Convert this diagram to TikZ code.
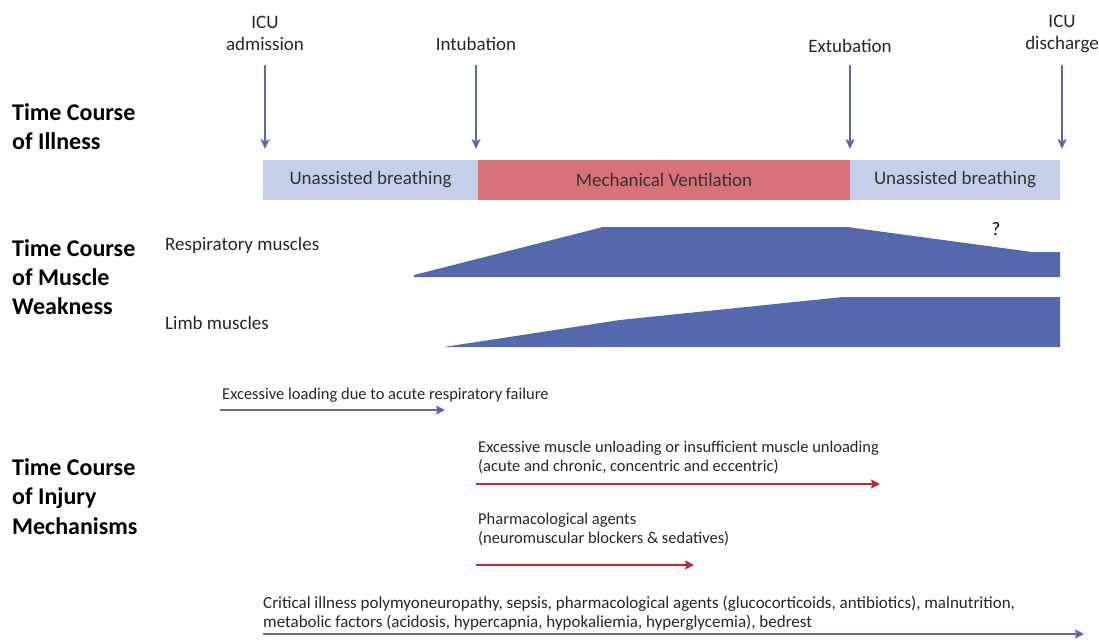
\documentclass[tikz,border=0pt]{standalone}
\usepackage{fontspec}
\setmainfont{Carlito}
\usetikzlibrary{arrows.meta}
\definecolor{lblue}{RGB}{197,207,234}
\definecolor{mred}{RGB}{216,114,122}
\definecolor{mblue}{RGB}{85,104,174}
\definecolor{ablue}{RGB}{88,108,170}
\definecolor{ared}{RGB}{196,40,45}
\tikzset{
  heading/.style={anchor=west,align=left,inner sep=0,font=\fontsize{24}{29.3}\selectfont\bfseries},
  toplabel/.style={align=center,inner sep=0,font=\fontsize{19}{22}\selectfont,text=black!85},
  bar/.style={inner sep=0,minimum height=40pt,font=\fontsize{19}{20}\selectfont,text=black!80},
  mlabel/.style={anchor=west,inner sep=0,font=\fontsize{19}{20}\selectfont,text=black!85},
  small/.style={anchor=west,align=left,inner sep=0,font=\fontsize{16.5}{19.5}\selectfont,text=black!85},
  downarrow/.style={draw=ablue,line width=1.8pt,-{Stealth[length=10pt,width=9pt,inset=2.5pt]}},
  mecharrow/.style={line width=2.6pt,-{Stealth[length=9pt,width=9pt,inset=1.5pt]}},
  muscle/.style={fill=mblue,draw=none}
}
\begin{document}
\begin{tikzpicture}[x=1pt,y=-1pt]
\useasboundingbox (0,0) rectangle (1099,642);
% headings
\node[heading] (h1) at (12,126.5) {Time Course\\of Illness};
\node[heading] (h2) at (12,277) {Time Course\\of Muscle\\Weakness};
\node[heading] (h3) at (12,496.5) {Time Course\\of Injury\\Mechanisms};
% top labels
\node[toplabel] (l1) at (265,33) {ICU\\admission};
\node[toplabel] (l2) at (476,44) {Intubation};
\node[toplabel] (l3) at (850,46) {Extubation};
\node[toplabel] (l4) at (1062,34) {ICU\\discharge};
% bars
\node[bar,fill=lblue,minimum width=215pt] (b1) at (370.5,180) {Unassisted breathing};
\node[bar,fill=mred,minimum width=372pt] (b2) at (664,180) {Mechanical Ventilation};
\node[bar,fill=lblue,minimum width=210pt] (b3) at (955,180) {Unassisted breathing};
% arrows
\coordinate (s1) at (265,65); \coordinate (e1) at (265,149);
\coordinate (s2) at (476,65); \coordinate (e2) at (476,149);
\coordinate (s3) at (850,65); \coordinate (e3) at (850,149);
\coordinate (s4) at (1062,65); \coordinate (e4) at (1062,149);
\draw[downarrow] (s1) -- (e1);
\draw[downarrow] (s2) -- (e2);
\draw[downarrow] (s3) -- (e3);
\draw[downarrow] (s4) -- (e4);
% muscle weakness
\node[mlabel] (rm) at (165,245) {Respiratory muscles};
\node[mlabel] (lm) at (165,323) {Limb muscles};
\fill[muscle] (414,275) -- (603,227) -- (847,227) -- (1032,252) -- (1060,252) -- (1060,277) -- (414,277) -- cycle;
\fill[muscle] (444,347) -- (620,320) -- (843,297) -- (1060,297) -- (1060,347) -- cycle;
\node[inner sep=0,font=\fontsize{19}{20}\selectfont] (q) at (996,229) {?};
% mechanisms
\node[small] (t1) at (222,395) {Excessive loading due to acute respiratory failure};
\coordinate (m1s) at (220,410); \coordinate (m1e) at (445,410);
\draw[mecharrow,draw=ablue] (m1s) -- (m1e);
\node[small] (t2) at (478,457.5) {Excessive muscle unloading or insufficient muscle unloading\\(acute and chronic, concentric and eccentric)};
\coordinate (m2s) at (476,484); \coordinate (m2e) at (880,484);
\draw[mecharrow,draw=ared] (m2s) -- (m2e);
\node[small] (t3) at (478,529.5) {Pharmacological agents\\(neuromuscular blockers \& sedatives)};
\coordinate (m3s) at (476,565); \coordinate (m3e) at (694,565);
\draw[mecharrow,draw=ared] (m3s) -- (m3e);
\node[small,font=\fontsize{17}{19}\selectfont] (t4) at (263,613) {Critical illness polymyoneuropathy, sepsis, pharmacological agents (glucocorticoids, antibiotics), malnutrition,\\metabolic factors (acidosis, hypercapnia, hypokaliemia, hyperglycemia), bedrest};
\coordinate (m4s) at (263,634); \coordinate (m4e) at (1084,634);
\draw[mecharrow,draw=ablue] (m4s) -- (m4e);
\end{tikzpicture}
\end{document}
